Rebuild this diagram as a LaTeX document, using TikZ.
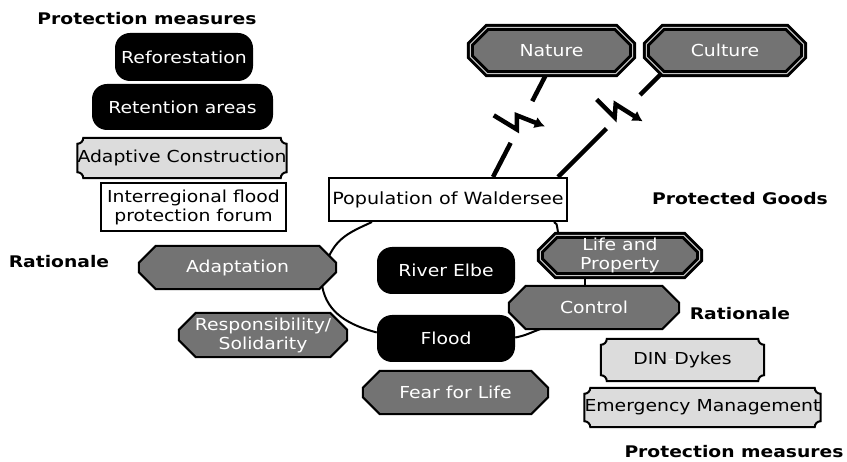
\documentclass[tikz,border=0pt]{standalone}
\usepackage{fontspec}
\setmainfont{DejaVu Sans}[FakeStretch=1.14]
\newfontfamily\headfont{DejaVu Sans}[FakeStretch=1.17]
\usetikzlibrary{calc,backgrounds,arrows.meta}

\definecolor{octgray}{HTML}{737373}
\definecolor{scrollgray}{HTML}{DCDCDC}

% octagonal outline around a node: style, node, chamfer
\newcommand\octpath[3]{%
  \path[#1] ($(#2.north west)+(#3,0)$) -- ($(#2.north east)+(-#3,0)$)
    -- ($(#2.north east)+(0,-#3)$) -- ($(#2.south east)+(0,#3)$)
    -- ($(#2.south east)+(-#3,0)$) -- ($(#2.south west)+(#3,0)$)
    -- ($(#2.south west)+(0,#3)$) -- ($(#2.north west)+(0,-#3)$) -- cycle;}
% outline with scooped (concave) corners: style, node, radius
\newcommand\scrollpath[3]{%
  \path[#1] ($(#2.north west)+(#3,0)$) -- ($(#2.north east)+(-#3,0)$)
    arc[start angle=180,end angle=270,radius=#3pt]
    -- ($(#2.south east)+(0,#3)$)
    arc[start angle=90,end angle=180,radius=#3pt]
    -- ($(#2.south west)+(#3,0)$)
    arc[start angle=0,end angle=90,radius=#3pt]
    -- ($(#2.north west)+(0,-#3)$)
    arc[start angle=270,end angle=360,radius=#3pt] -- cycle;}

\begin{document}
\begin{tikzpicture}[x=1pt,y=1pt,
  every node/.style={font=\fontsize{16.5}{19}\selectfont, align=center, inner sep=0pt},
  heading/.style={font=\headfont\bfseries\fontsize{16}{19}\selectfont},
  darkbox/.style={rectangle, rounded corners=15pt, fill=black, text=white},
  plainbox/.style={rectangle, draw=black, line width=2pt, fill=white},
  octnode/.style={rectangle, text=white},
  scrollnode/.style={rectangle, text=black},
  octline/.style={draw=black, line width=2pt, fill=octgray, line join=miter},
  goodsline/.style={draw=black, line width=3pt, double=gray!45, double distance=1pt,
                    fill=octgray, line join=miter},
  scrollline/.style={draw=black, line width=2pt, fill=scrollgray},
  link/.style={line width=2pt},
  threat/.style={line width=4.5pt},
  bolt/.style={line width=4.5pt, line join=miter, -{Latex[length=10pt,width=12pt]}}]

\useasboundingbox (0,0) rectangle (847,-462);

% headings
\node[heading] (pmTop) at (147,-19) {Protection measures};
\node[heading] (goodsHd) at (740,-199) {Protected Goods};
\node[heading] (ratL) at (59,-262) {Rationale};
\node[heading] (ratR) at (740,-314) {Rationale};
\node[heading] (pmBot) at (734,-452) {Protection measures};

% measures on the left
\node[darkbox, minimum width=138pt, minimum height=48pt] (refor) at (184,-57) {Reforestation};
\node[darkbox, minimum width=181pt, minimum height=46pt] (reten) at (182.5,-107) {Retention areas};
\node[scrollnode, minimum width=206pt, minimum height=40pt] (adcon) at (182,-158) {Adaptive Construction};
\node[plainbox, minimum width=185pt, minimum height=48pt] (forum) at (193.5,-207) {Interregional flood\\protection forum};

% centre
\node[plainbox, font=\fontsize{16.8}{20}\selectfont, minimum width=238pt, minimum height=43pt] (pop) at (448,-199.5) {Population of Waldersee};
\node[darkbox, minimum width=138pt, minimum height=47pt] (elbe) at (446,-270.5) {River Elbe};
\node[darkbox, minimum width=138pt, minimum height=47pt] (flood) at (446,-338.5) {Flood};

% protected goods
\node[octnode, minimum width=162pt, minimum height=46pt] (nature) at (551.5,-50.5) {Nature};
\node[octnode, minimum width=157pt, minimum height=46pt] (culture) at (725,-50.5) {Culture};
\node[octnode, minimum width=159pt, minimum height=40pt] (lp) at (620,-255.5) {Life and\\Property};

% rationales
\node[octnode, minimum width=197pt, minimum height=43pt] (adapt) at (237.5,-267.5) {Adaptation};
\node[octnode, minimum width=168pt, minimum height=44pt] (resp) at (263,-335) {Responsibility/\\Solidarity};
\node[octnode, minimum width=185pt, minimum height=43pt] (fear) at (455.5,-392.5) {Fear for Life};
\node[octnode, minimum width=170pt, minimum height=43pt] (control) at (594,-307.5) {Control};

% measures on the right
\node[scrollnode, minimum width=163pt, minimum height=42pt] (dyke) at (682.5,-360) {DIN{\color{white}-}Dykes};
\node[scrollnode, minimum width=233pt, minimum height=39pt] (emerg) at (702.5,-407.5) {Emergency Management};

\begin{scope}[on background layer]
  \fill[white] (0,0) rectangle (847,-462);

  % threats to nature and culture
  \coordinate (natA) at ([xshift=-5pt]nature.south);
  \coordinate (natB) at ([xshift=45pt]pop.north);
  \coordinate (natM) at ($(natA)!0.5!(natB)$);
  \draw[threat] (natA) -- ($(natA)!0.266!(natB)$);
  \draw[threat] ($(natA)!0.67!(natB)$) -- (natB);
  \draw[bolt] ($(natM)+(-26,10)$) -- ++(23,-14) -- ++(0,14) -- ++(28,-11);

  \coordinate (culA) at ($(culture.south west)+(15,0)$);
  \coordinate (culB) at ([xshift=110pt]pop.north);
  \coordinate (culM) at ($(culA)!0.5!(culB)$);
  \draw[threat] (culA) -- ($(culA)!0.206!(culB)$);
  \draw[threat] ($(culA)!0.531!(culB)$) -- (culB);
  \draw[bolt] ($(culM)+(-13,26)$) -- ++(18,-18) -- ++(1,13) -- ++(27,-17);

  % ring of links round the river
  \draw[link] ($(pop.south)+(-76,0)$) to[out=205,in=65] ($(adapt.north east)+(-7,-10)$);
  \draw[link] ($(adapt.south east)+(-14,3)$) to[out=-80,in=165] ($(flood.west)+(0,6)$);
  \draw[link] ($(flood.east)+(0,1)$) to[out=10,in=200] ($(control.south)+(-54,0)$);
  \draw[link] ($(pop.south east)+(-14,0)$) to[out=-15,in=150] ($(lp.north west)+(20,0)$);
  \draw[link] ([xshift=-35pt]lp.south) -- ([xshift=-35pt]lp.south |- control.north);

  % outlines
  \octpath{goodsline}{nature}{17}
  \octpath{goodsline}{culture}{17}
  \octpath{goodsline}{lp}{16}
  \octpath{octline}{adapt}{17}
  \octpath{octline}{resp}{17}
  \octpath{octline}{fear}{17}
  \octpath{octline}{control}{17}
  \scrollpath{scrollline}{adcon}{6}
  \scrollpath{scrollline}{dyke}{6}
  \scrollpath{scrollline}{emerg}{6}
\end{scope}
\end{tikzpicture}
\end{document}
